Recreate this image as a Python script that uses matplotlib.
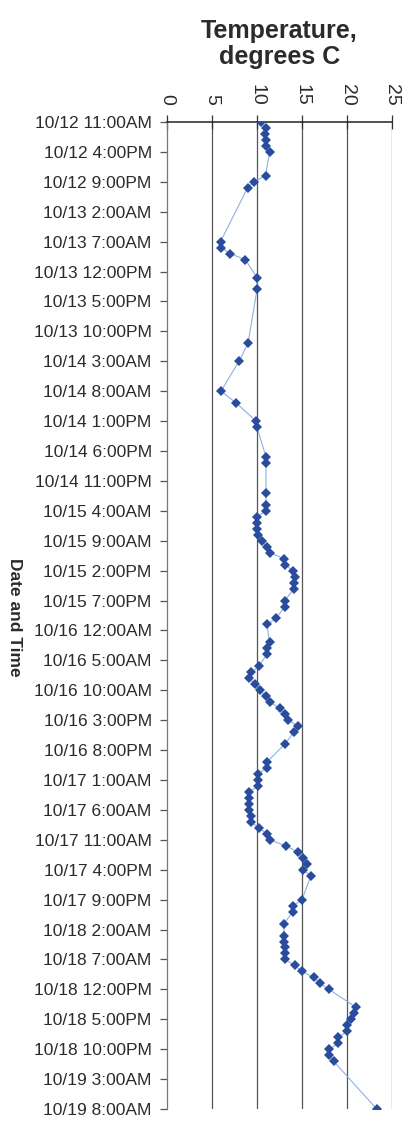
import matplotlib
matplotlib.use("Agg")
import matplotlib.pyplot as plt

plt.rcParams['font.family'] = ['Liberation Sans', 'DejaVu Sans']

# Hours elapsed since 10/12 11:00AM for each reading
hours = [0, 1, 2, 3, 4, 5, 9, 10, 11, 20, 21, 22, 23, 26, 28, 37, 40, 45, 47, 50,
         51, 56, 57, 62, 64, 65, 66, 67, 68, 69, 70, 71, 72, 73, 74, 75, 76, 77, 78,
         80, 81, 83, 84, 87, 88, 89, 91, 92, 93, 94, 95, 96, 97, 98, 99, 100, 101,
         102, 104, 107, 108, 109, 110, 111, 112, 113, 114, 115, 116, 117, 118, 119,
         120, 121, 122, 123, 124, 125, 126, 130, 131, 132, 134, 136, 137, 138, 139,
         140, 141, 142, 143, 144, 145, 148, 149, 150, 151, 152, 153, 154, 155, 156,
         157, 165]

# Temperature readings, degrees C
temps = [10.4, 10.95, 10.9, 11.0, 10.95, 11.4, 10.95, 9.65, 8.95, 5.95, 6.0, 7.0, 8.7,
         10.0, 10.0, 9.0, 8.0, 6.0, 7.7, 9.9, 10.0, 11.0, 11.0, 11.0, 11.0, 11.0, 10.0,
         10.0, 10.0, 10.1, 10.5, 11.1, 11.4, 13.0, 13.1, 14.0, 14.25, 14.1, 14.1, 13.1,
         13.1, 12.1, 11.1, 11.4, 11.1, 11.1, 10.2, 9.35, 9.15, 9.75, 10.3, 11.0, 11.4,
         12.55, 13.1, 13.45, 14.6, 14.1, 13.1, 11.1, 11.1, 10.1, 10.1, 10.1, 9.15, 9.15,
         9.15, 9.15, 9.3, 9.3, 10.2, 11.1, 11.4, 13.2, 14.5, 15.1, 15.6, 15.1, 16.0,
         15.0, 14.0, 14.0, 13.0, 13.0, 13.0, 13.1, 13.1, 13.1, 14.2, 15.0, 16.3, 17.0,
         18.0, 21.0, 20.8, 20.4, 20.05, 20.05, 19.05, 19.05, 18.05, 18.05, 18.5, 23.3]

# Time axis labels, one every 5 hours
time_labels = ["10/12 11:00AM", "10/12 4:00PM", "10/12 9:00PM", "10/13 2:00AM",
               "10/13 7:00AM", "10/13 12:00PM", "10/13 5:00PM", "10/13 10:00PM",
               "10/14 3:00AM", "10/14 8:00AM", "10/14 1:00PM", "10/14 6:00PM",
               "10/14 11:00PM", "10/15 4:00AM", "10/15 9:00AM", "10/15 2:00PM",
               "10/15 7:00PM", "10/16 12:00AM", "10/16 5:00AM", "10/16 10:00AM",
               "10/16 3:00PM", "10/16 8:00PM", "10/17 1:00AM", "10/17 6:00AM",
               "10/17 11:00AM", "10/17 4:00PM", "10/17 9:00PM", "10/18 2:00AM",
               "10/18 7:00AM", "10/18 12:00PM", "10/18 5:00PM", "10/18 10:00PM",
               "10/19 3:00AM", "10/19 8:00AM"]
tick_hours = [5 * i for i in range(len(time_labels))]
temp_ticks = [0, 5, 10, 15, 20, 25]

text_color = "#2b2b2b"

fig = plt.figure(figsize=(4.12, 11.27), dpi=100)
ax = fig.add_axes([167 / 412, 1 - 1109 / 1127, 225 / 412, (1109 - 122) / 1127])

ax.plot(temps, hours, color="#8fb0e0", linewidth=0.8, zorder=2)
ax.plot(temps, hours, linestyle="none", marker="D", markersize=4.6,
        color="#2a4c9c", markeredgewidth=0, zorder=3)

ax.set_xlim(0, 25)
ax.set_ylim(165, 0)

ax.xaxis.tick_top()
ax.set_xticks(temp_ticks)
ax.set_xticklabels([str(t) for t in temp_ticks], rotation=270, fontsize=14,
                   color=text_color)
ax.tick_params(axis="x", direction="inout", length=10, width=0.9, pad=7,
               colors="#333333", labelcolor=text_color)

ax.set_yticks(tick_hours)
ax.set_yticklabels(time_labels, fontsize=12.5, color=text_color)
ax.tick_params(axis="y", direction="out", length=5, width=0.9, pad=6,
               colors="#555555", labelcolor=text_color)

for t in temp_ticks[1:]:
    ax.axvline(t, color="#555555", linewidth=0.9, zorder=1)

ax.spines["bottom"].set_visible(False)
ax.spines["right"].set_visible(False)
ax.spines["left"].set_color("#777777")
ax.spines["left"].set_linewidth(0.9)
ax.spines["top"].set_color("#222222")
ax.spines["top"].set_linewidth(1.1)

fig.text(279.5 / 412, 1 - 44 / 1127, "Temperature,\ndegrees C", ha="center",
         va="center", fontsize=18, fontweight="bold", color=text_color,
         linespacing=1.15)
fig.text(14 / 412, 1 - 617 / 1127, "Date and Time", ha="center", va="center",
         rotation=270, fontsize=12.5, fontweight="bold", color=text_color)

fig.savefig("out.png", dpi=100)
